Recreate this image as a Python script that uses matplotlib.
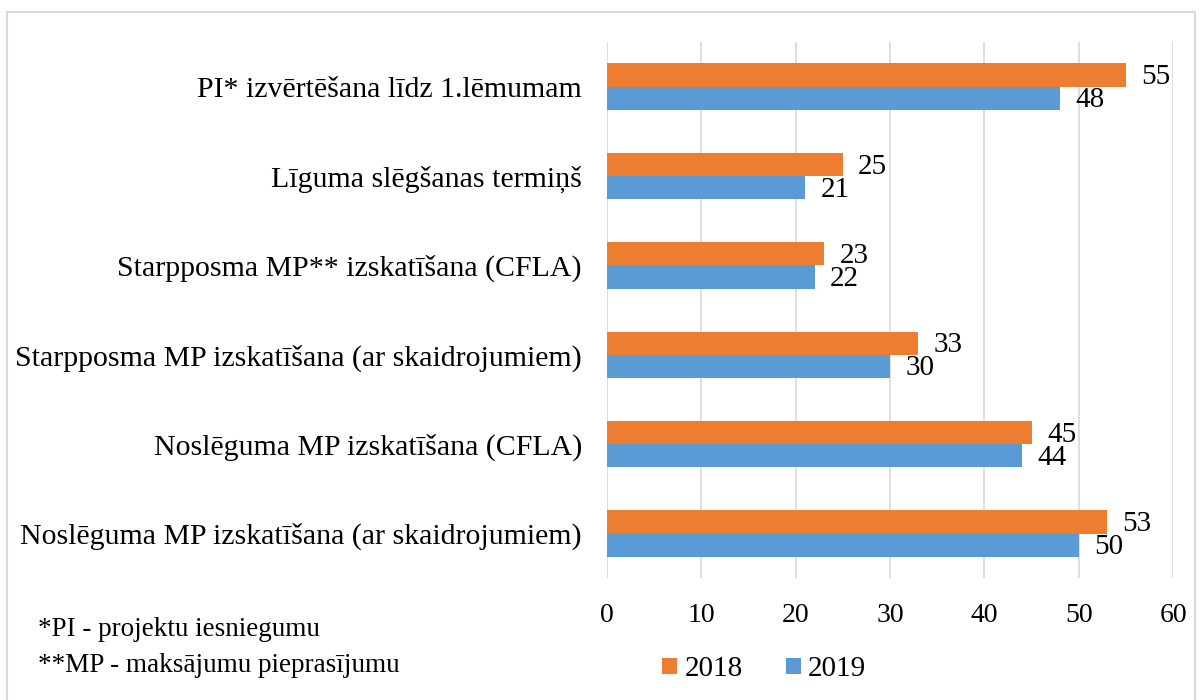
import numpy as np
import matplotlib.pyplot as plt
from matplotlib.patches import Rectangle

plt.rcParams['font.family'] = ['Liberation Serif', 'DejaVu Serif']

# Data
categories = ['PI* izvērtēšana līdz 1.lēmumam',
              'Līguma slēgšanas termiņš',
              'Starpposma MP** izskatīšana (CFLA)',
              'Starpposma MP izskatīšana (ar skaidrojumiem)',
              'Noslēguma MP izskatīšana (CFLA)',
              'Noslēguma MP izskatīšana (ar skaidrojumiem)']
values_2018 = [55, 25, 23, 33, 45, 53]
values_2019 = [48, 21, 22, 30, 44, 50]
footnotes = ['*PI - projektu iesniegumu', '**MP - maksājumu pieprasījumu']

orange = '#ED7D31'
blue = '#5B9BD5'

fig = plt.figure(figsize=(12.02, 7), dpi=100)
ax = fig.add_axes([0.505, 0.174, 0.471, 0.766])

y = np.arange(len(categories))
h = 0.26
b1 = ax.barh(y - h / 2, values_2018, height=h, color=orange, label='2018', zorder=3)
b2 = ax.barh(y + h / 2, values_2019, height=h, color=blue, label='2019', zorder=3)

# value labels at bar ends
for bars in (b1, b2):
    for bar in bars:
        w = bar.get_width()
        ax.annotate(str(int(w)), (w, bar.get_y() + bar.get_height() / 2),
                    xytext=(11, -1.5), textcoords='offset points',
                    ha='left', va='center', fontsize=21)

ax.set_yticks(y)
ax.set_yticklabels(categories, fontsize=21.5)
ax.set_ylim(len(categories) - 0.5, -0.5)
ax.set_xlim(0, 60)
ax.set_xticks(np.arange(0, 61, 10))
ax.tick_params(axis='x', labelsize=20, length=0, pad=18)
ax.tick_params(axis='y', length=0, pad=18)
ax.grid(axis='x', color='#d9d9d9', linewidth=1.2, zorder=0)
for s in ax.spines.values():
    s.set_visible(False)

fig.legend(handles=[b1, b2], labels=['2018', '2019'], ncol=2, frameon=False,
           loc='center', bbox_to_anchor=(0.636, 0.044), fontsize=21,
           handlelength=0.5, handleheight=0.5, handletextpad=0.25, columnspacing=1.5)

fig.text(0.032, 0.1, footnotes[0], fontsize=19.5, va='center')
fig.text(0.032, 0.05, footnotes[1], fontsize=19.5, va='center')

# outer border
fig.patches.append(Rectangle((7 / 1202, -0.05), 1188 / 1202, 1 - 12 / 700 + 0.05,
                             transform=fig.transFigure, fill=False,
                             edgecolor='#d9d9d9', linewidth=1.5))

fig.savefig('out.png', dpi=100)
